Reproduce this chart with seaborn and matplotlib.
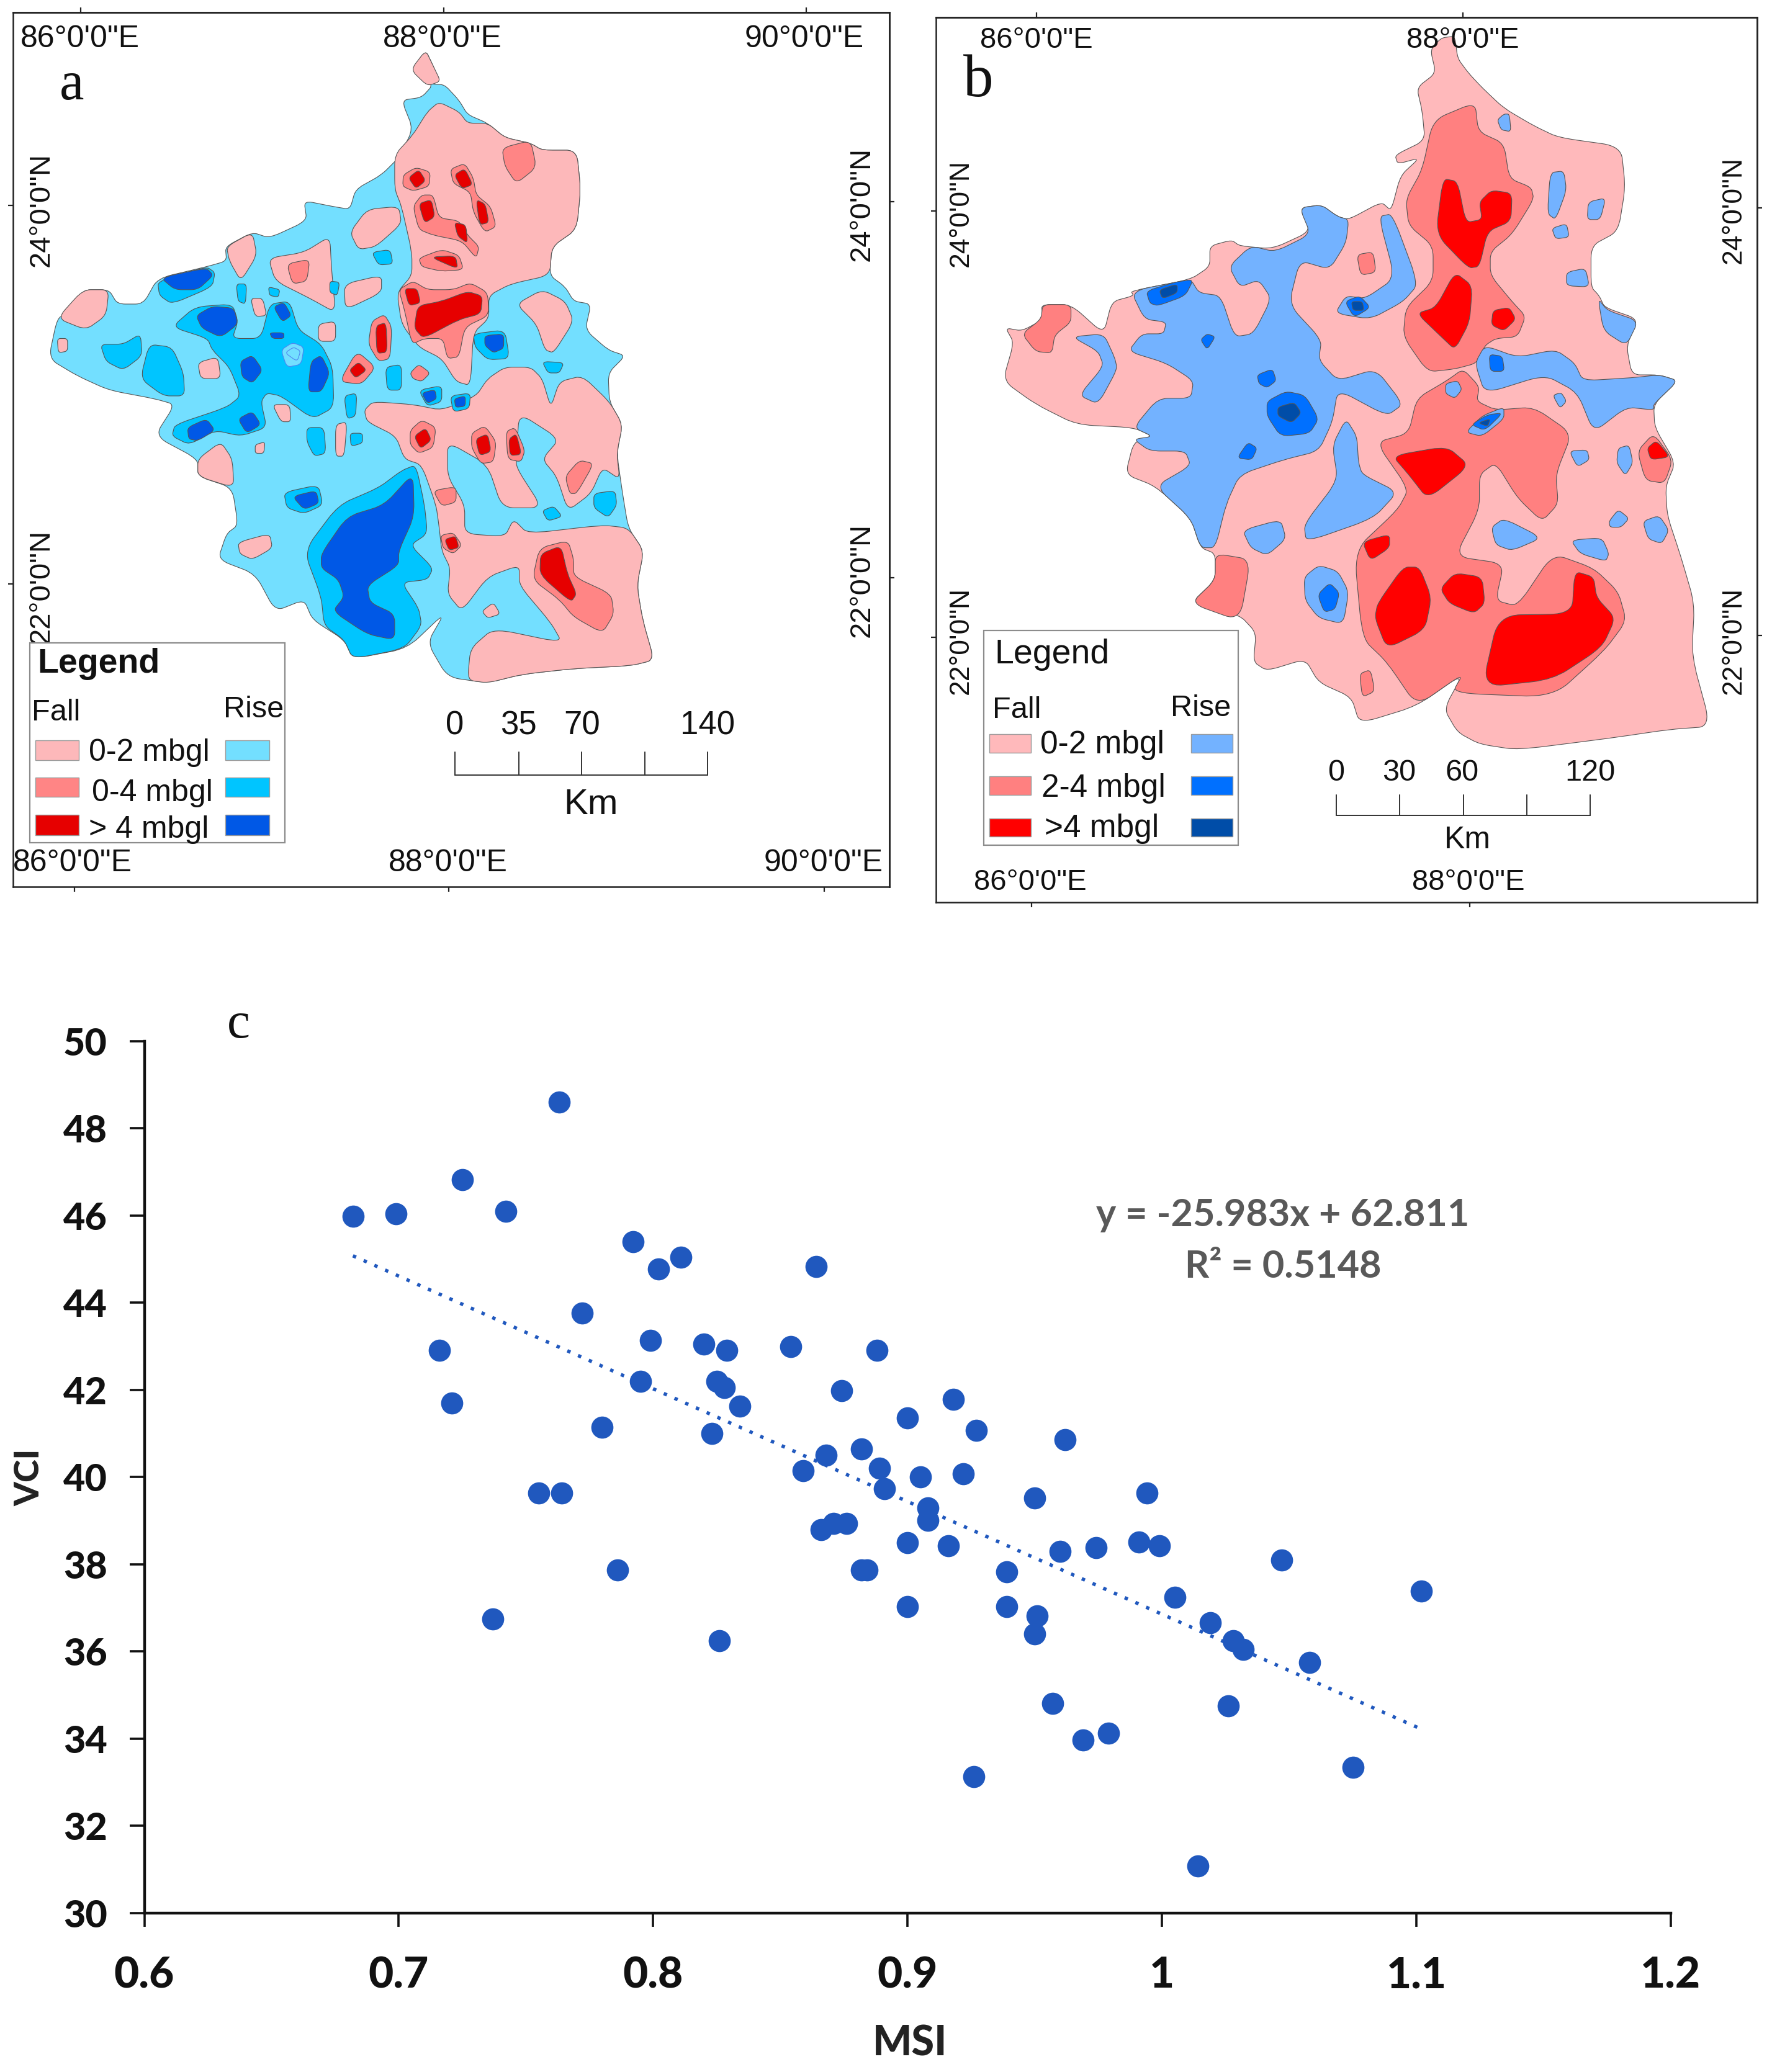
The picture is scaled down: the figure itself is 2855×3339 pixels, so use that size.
import numpy as np
import pandas as pd
import matplotlib
matplotlib.use("Agg")
import matplotlib.pyplot as plt
from matplotlib.patches import PathPatch, Rectangle
from matplotlib.path import Path
import seaborn as sns

# ------------------------------------------------------------
# panel c data
# ------------------------------------------------------------
msi = [0.682, 0.699, 0.725, 0.742, 0.763, 0.792, 0.802, 0.811, 0.864, 0.772, 0.799, 0.820,
       0.829, 0.854, 0.888, 0.716, 0.795, 0.825, 0.828, 0.834, 0.874, 0.721, 0.780, 0.823,
       0.900, 0.868, 0.882, 0.889, 0.859, 0.905, 0.891, 0.755, 0.764, 0.866, 0.871, 0.876,
       0.900, 0.882, 0.884, 0.786, 0.900, 0.737, 0.826, 0.918, 0.927, 0.962, 0.922, 0.950,
       0.994, 0.908, 0.908, 0.916, 0.991, 0.999, 0.960, 0.974, 0.939, 1.047, 1.005, 1.102,
       0.939, 0.951, 0.950, 1.019, 1.028, 1.032, 1.058, 0.957, 1.026, 0.969, 0.979, 1.075,
       0.926, 1.014]
vci = [45.98, 46.04, 46.82, 46.10, 48.60, 45.40, 44.77, 45.04, 44.83, 43.76, 43.13, 43.05,
       42.91, 42.99, 42.91, 42.91, 42.20, 42.20, 42.05, 41.63, 41.99, 41.70, 41.15, 41.00,
       41.36, 40.50, 40.65, 40.21, 40.15, 40.00, 39.73, 39.64, 39.64, 38.80, 38.93, 38.93,
       38.50, 37.87, 37.87, 37.87, 37.03, 36.74, 36.24, 41.79, 41.07, 40.86, 40.08, 39.52,
       39.64, 39.29, 39.01, 38.43, 38.51, 38.43, 38.30, 38.38, 37.82, 38.09, 37.24, 37.38,
       37.03, 36.82, 36.40, 36.66, 36.24, 36.04, 35.75, 34.81, 34.75, 33.97, 34.12, 33.34,
       33.12, 31.07]
x_ticks = [0.6, 0.7, 0.8, 0.9, 1.0, 1.1, 1.2]
x_tick_labels = ["0.6", "0.7", "0.8", "0.9", "1", "1.1", "1.2"]
y_ticks = [30, 32, 34, 36, 38, 40, 42, 44, 46, 48, 50]

# ------------------------------------------------------------
# panel a map, outlines (map grid units)
# ------------------------------------------------------------
a_outline = [(742,88),(755,115),(765,140),(752,147),(775,148),(800,175),(815,200),(850,215),(880,240),(925,250),
             (945,262),(1005,262),(1012,330),(1005,400),(962,430),(958,480),(985,500),(1000,525),(1030,530),(1020,575),
             (1060,610),(1090,620),(1060,650),(1062,700),(1085,740),(1075,790),(1085,860),(1095,920),(1122,960),(1110,1020),
             (1120,1080),(1140,1150),(1100,1160),(1000,1165),(910,1175),(850,1190),(780,1180),(745,1120),(775,1068),(710,1130),
             (615,1148),(600,1115),(545,1080),(530,1045),(480,1065),(445,1000),(380,975),(395,930),(415,915),(405,850),
             (345,830),(345,800),(270,760),(305,705),(270,695),(190,680),(135,655),(85,625),(100,555),(120,545),
             (145,505),(190,505),(205,530),(250,530),(275,485),(360,465),(395,455),(393,430),(440,405),(470,415),
             (535,385),(530,350),(580,360),(610,365),(620,330),(665,305),(695,275),(720,225),(700,175),(735,170),
             (755,148),(720,120)]
a_fall_low = [
    [(742,88),(755,115),(768,142),(745,150),(716,122)],
    [(688,270),(720,235),(745,195),(765,178),(800,195),(815,215),(850,215),(880,240),(925,250),(945,262),(1005,262),
     (1012,330),(1005,400),(962,430),(958,480),(890,495),(852,515),(852,555),(825,580),(820,672),(795,665),(770,625),
     (730,605),(700,565),(692,510),(718,480),(718,440),(700,360),(688,330)],
    [(610,405),(640,365),(695,360),(700,390),(655,430),(625,435)],
    [(468,450),(530,440),(575,412),(578,470),(585,545),(540,520),(480,490)],
    [(600,495),(665,480),(665,510),(602,540)],
    [(395,430),(440,405),(448,445),(420,490),(400,455)],
    [(100,555),(145,505),(190,505),(185,550),(150,575)],
    [(100,590),(118,590),(118,612),(102,615)],
    [(345,632),(380,622),(385,660),(350,660)],
    [(437,520),(458,520),(465,550),(445,552)],
    [(555,565),(585,560),(585,595),(555,595)],
    [(475,705),(505,705),(507,735),(490,735)],
    [(445,775),(462,770),(460,790),(445,790)],
    [(345,800),(385,770),(405,800),(408,850),(345,830)],
    [(415,945),(470,930),(475,955),(440,975),(418,965)],
    [(585,740),(605,735),(600,795),(585,795)],
    [(635,715),(650,700),(720,705),(770,715),(830,690),(850,660),(880,640),(925,640),(945,660),(960,710),(975,665),
     (1015,655),(1062,700),(1085,740),(1075,790),(1080,835),(1050,815),(1030,860),(990,890),(970,830),(945,800),
     (975,765),(905,720),(900,790),(900,815),(945,885),(875,885),(850,810),(780,770),(780,830),(810,880),(810,930),
     (880,935),(895,905),(920,930),(1050,915),(1095,920),(1122,960),(1110,1020),(1120,1080),(1140,1150),(1100,1160),
     (1000,1165),(910,1175),(850,1190),(815,1185),(820,1130),(860,1095),(980,1120),(960,1085),(905,1020),(905,985),
     (850,1005),(805,1065),(780,1035),(785,990),(770,960),(765,915),(760,880),(735,810),(705,800),(690,760),(640,735)],
    [(840,1065),(860,1050),(872,1070),(850,1077)],
    [(900,530),(945,505),(985,525),(1000,560),(965,615),(950,610),(935,565)],
]
a_fall_mid = [
    [(875,258),(925,245),(935,292),(900,320),(880,290)],
    [(500,460),(540,452),(535,490),(510,495)],
    [(703,305),(725,292),(750,300),(748,325),(720,333),(702,325)],
    [(785,295),(810,285),(825,310),(830,340),(855,360),(865,395),(845,405),(825,370),(820,335),(790,320)],
    [(720,360),(735,340),(755,340),(765,380),(800,385),(815,410),(835,430),(830,450),(805,420),(755,410),(730,400)],
    [(730,450),(770,435),(800,445),(808,470),(770,473),(735,465)],
    [(695,505),(720,490),(745,505),(790,505),(820,493),(850,510),(852,550),(810,570),(800,622),(780,625),(772,590),
     (740,590),(718,600),(705,540)],
    [(648,560),(670,548),(683,570),(680,625),(660,630),(642,600)],
    [(592,665),(622,612),(655,640),(630,670)],
    [(715,650),(730,635),(750,650),(735,665),(720,660)],
    [(715,750),(735,732),(760,745),(755,780),(730,790),(715,775)],
    [(822,755),(845,742),(865,770),(860,805),(838,808),(822,780)],
    [(882,752),(898,745),(915,785),(908,805),(885,800)],
    [(985,830),(1010,802),(1035,808),(1005,860),(993,860)],
    [(755,855),(795,848),(795,875),(770,882)],
    [(768,933),(790,928),(805,950),(790,965),(772,955)],
    [(940,955),(990,942),(1000,975),(1000,1005),(1065,1035),(1070,1070),(1050,1103),(1000,1075),(975,1045),(928,1010)],
]
a_fall_high = [
    [(712,310),(730,296),(742,315),(725,329)],
    [(792,305),(810,294),(824,322),(805,329)],
    [(830,348),(846,356),(852,388),(836,392)],
    [(730,355),(752,348),(758,378),(740,389)],
    [(792,388),(812,392),(815,424),(798,412)],
    [(750,448),(794,446),(798,469)],
    [(705,503),(727,503),(733,528),(713,533)],
    [(728,533),(770,525),(815,508),(841,516),(838,547),(800,557),(738,590),(722,572)],
    [(655,568),(673,562),(675,614),(657,616)],
    [(609,645),(625,631),(639,645),(620,659)],
    [(722,760),(742,746),(752,767),(733,782)],
    [(829,765),(850,756),(856,787),(836,794)],
    [(887,765),(900,756),(909,792),(889,794)],
    [(775,940),(794,934),(800,954),(783,959)],
    [(942,965),(978,951),(989,1000),(1005,1035),(995,1049),(941,1002)],
]
a_rise_mid = [
    [(275,490),(360,465),(375,475),(370,500),(300,530),(278,515)],
    [(300,570),(340,535),(405,530),(415,560),(405,590),(455,590),(470,530),(505,525),(520,575),(560,600),(580,640),
     (582,710),(545,730),(490,690),(465,685),(455,700),(465,745),(420,760),(375,750),(330,775),(300,760),(305,740),
     (395,710),(420,690),(400,640),(370,610),(362,590)],
    [(175,600),(215,600),(245,582),(248,620),(215,645),(185,630)],
    [(260,600),(300,605),(320,650),(322,690),(285,690),(245,660)],
    [(412,495),(430,495),(428,530),(415,525)],
    [(468,500),(488,505),(485,518),(470,515)],
    [(575,490),(592,492),(588,515),(575,510)],
    [(648,440),(680,435),(685,460),(660,462)],
    [(672,640),(700,635),(700,680),(675,680)],
    [(600,690),(622,685),(620,725),(605,730)],
    [(730,680),(770,672),(770,700),(745,708)],
    [(785,690),(820,685),(818,712),(790,718)],
    [(535,745),(565,745),(568,790),(548,795),(535,770)],
    [(610,755),(632,755),(632,772),(612,778)],
    [(495,858),(555,845),(563,880),(530,895),(500,885)],
    [(825,582),(880,575),(888,625),(850,627),(828,605)],
    [(945,630),(983,632),(975,650),(955,650)],
    [(1035,860),(1072,855),(1075,880),(1060,902),(1035,885)],
    [(945,890),(965,882),(980,900),(955,908)],
    [(530,960),(590,880),(660,850),(700,820),(725,810),(740,880),(745,930),(715,950),(755,990),(745,1010),(700,1015),
     (730,1060),(735,1090),(705,1130),(615,1148),(600,1115),(565,1090),(560,1040)],
]
a_rise_high = [
    [(280,484),(360,467),(372,480),(345,505),(305,505)],
    [(342,550),(370,534),(408,537),(415,565),(385,588),(352,572)],
    [(419,630),(440,619),(458,645),(440,668),(422,657)],
    [(542,630),(560,619),(575,650),(560,683),(537,683)],
    [(477,535),(495,527),(508,550),(492,561)],
    [(470,580),(495,580),(495,590),(475,590)],
    [(327,745),(360,730),(375,750),(345,768),(329,765)],
    [(415,730),(440,717),(455,740),(430,755)],
    [(735,685),(758,679),(761,695),(745,703)],
    [(792,695),(811,690),(811,708),(794,710)],
    [(510,865),(551,855),(556,877),(530,888)],
    [(845,585),(878,582),(878,607),(860,615),(845,602)],
    [(560,965),(605,900),(670,880),(720,825),(722,900),(695,960),(695,985),(640,1020),(645,1050),(688,1070),(688,1115),
     (640,1105),(580,1065),(600,1040),(590,1010),(560,990)],
]
a_rise_low_top = [
    [(490,610),(510,597),(530,605),(525,635),(500,640)],
    [(497,615),(512,605),(524,612),(518,630)],
]

# ------------------------------------------------------------
# panel b map
# ------------------------------------------------------------
b_outline = [(960,65),(985,62),(990,100),(1010,125),(1035,150),(1075,185),(1130,215),(1175,235),(1290,250),(1298,320),
             (1285,395),(1235,420),(1235,490),(1250,505),(1260,525),(1322,545),(1300,590),(1310,640),(1360,640),(1395,650),
             (1350,690),(1352,730),(1390,790),(1372,830),(1375,880),(1400,950),(1425,1030),(1420,1120),(1455,1240),(1380,1245),
             (1270,1260),(1100,1280),(1030,1270),(990,1250),(965,1210),(1000,1150),(915,1205),(810,1235),(795,1190),(735,1165),
             (710,1125),(640,1145),(615,1130),(620,1080),(590,1050),(500,1030),(545,990),(545,945),(518,935),(500,885),
             (435,830),(380,810),(395,755),(430,745),(395,730),(290,725),(215,690),(155,650),(175,585),(160,560),
             (190,565),(230,545),(225,520),(280,520),(340,570),(355,515),(395,505),(390,497),(500,477),(535,455),
             (535,420),(575,410),(590,420),(650,425),(720,395),(700,355),(740,350),(770,370),(790,375),(850,345),
             (868,360),(885,300),(920,270),(880,280),(875,265),(930,240),(925,190),(915,150),(950,125),(940,85)]
b_fall_mid = [
    [(190,570),(225,545),(228,520),(280,520),(280,550),(250,572),(245,603),(215,600)],
    [(805,435),(835,430),(840,465),(812,470)],
    [(895,340),(925,290),(945,205),(1022,175),(1028,225),(1075,245),(1085,305),(1125,320),(1130,340),(1090,400),
     (1050,430),(1050,470),(1090,515),(1115,540),(1100,575),(1060,578),(1040,590),(1025,620),(985,630),(935,635),
     (890,575),(895,525),(945,480),(945,420),(900,385)],
    [(1000,630),(1030,660),(1025,685),(1060,700),(1130,695),(1200,740),(1170,810),(1175,860),(1145,890),(1100,850),
     (1060,790),(1030,810),(1030,870),(985,950),(1075,962),(1060,1025),(1100,1035),(1165,945),(1240,970),(1285,1010),
     (1300,1060),(1260,1110),(1165,1190),(980,1183),(1000,1150),(915,1205),(860,1130),(815,1090),(800,940),(880,870),
     (900,835),(840,755),(900,740),(915,680),(970,650)],
    [(810,1150),(830,1143),(838,1180),(815,1190)],
    [(545,945),(610,955),(590,1060),(500,1030),(545,990)],
    [(1320,770),(1350,740),(1385,785),(1370,825),(1335,820)],
]
b_fall_high = [
    [(963,305),(990,310),(1005,380),(1035,375),(1030,345),(1052,325),(1090,330),(1088,378),(1045,395),(1030,455),
     (1010,458),(950,400)],
    [(915,535),(950,525),(985,465),(1017,488),(1012,550),(985,597),(960,575)],
    [(1055,530),(1085,525),(1097,545),(1075,565),(1052,555)],
    [(870,778),(970,762),(1012,795),(935,852),(900,810)],
    [(815,925),(865,912),(865,935),(830,957)],
    [(843,1030),(890,968),(920,968),(942,1020),(930,1075),(860,1107),(838,1055)],
    [(958,1005),(985,978),(1035,985),(1040,1030),(1020,1047),(975,1030)],
    [(1065,1050),(1200,1048),(1205,975),(1240,985),(1245,1020),(1280,1055),(1255,1105),(1165,1160),(1035,1173)],
    [(1338,765),(1355,752),(1380,780),(1345,785)],
]
b_rise_low = [
    [(390,497),(500,477),(515,500),(555,505),(580,575),(615,570),(648,510),(625,478),(590,490),(570,455),(610,420),
     (655,430),(720,400),(700,355),(740,350),(770,370),(790,375),(785,415),(755,460),(700,445),(680,520),(740,580),
     (735,615),(770,650),(840,630),(890,690),(860,710),(770,665),(760,720),(735,770),(670,785),(590,810),(565,860),
     (545,935),(518,935),(500,885),(435,830),(500,795),(490,770),(425,770),(395,750),(430,745),(395,730),(440,680),
     (500,680),(505,650),(455,620),(385,600),(410,570),(450,570),(455,550),(415,545)],
    [(282,575),(340,570),(360,610),(365,630),(330,690),(295,675),(340,625),(330,600)],
    [(845,370),(870,365),(918,485),(890,515),(830,545),(765,535),(785,505),(820,510),(875,475)],
    [(1075,195),(1085,195),(1088,225),(1070,222),(1063,205)],
    [(1160,295),(1185,292),(1190,325),(1170,375),(1155,365)],
    [(1230,345),(1262,338),(1252,375),(1228,375)],
    [(1163,390),(1190,382),(1195,405),(1170,408)],
    [(1190,465),(1225,458),(1232,490),(1190,488)],
    [(1248,510),(1265,530),(1322,548),(1300,590),(1258,565)],
    [(1040,590),(1100,610),(1170,597),(1205,620),(1220,650),(1310,645),(1360,640),(1395,650),(1350,690),(1350,700),
     (1300,695),(1240,738),(1210,670),(1150,640),(1040,672),(1022,620)],
    [(968,655),(990,650),(998,665),(985,680),(968,672)],
    [(1165,675),(1180,670),(1190,685),(1178,697)],
    [(1005,738),(1035,710),(1075,695),(1075,715),(1035,745)],
    [(1195,770),(1228,768),(1232,785),(1210,797)],
    [(1285,765),(1305,760),(1312,790),(1298,812),(1282,790)],
    [(1268,890),(1285,870),(1305,885),(1290,900),(1270,900)],
    [(1330,890),(1360,880),(1378,905),(1365,928),(1340,920)],
    [(1052,900),(1075,885),(1145,918),(1090,940),(1060,930)],
    [(1198,922),(1255,918),(1268,945),(1262,958),(1215,945)],
    [(595,905),(665,887),(675,920),(640,948),(610,935)],
    [(708,985),(735,965),(770,975),(790,1010),(780,1065),(735,1055),(710,1025)],
    [(708,895),(770,820),(760,760),(785,715),(805,745),(808,790),(815,810),(880,840),(835,885),(712,925)],
]
b_rise_mid = [
    [(783,515),(810,505),(830,525),(800,542)],
    [(1048,605),(1072,608),(1076,634),(1050,634)],
    [(1015,725),(1045,708),(1073,705),(1040,735)],
    [(733,1015),(755,995),(773,1012),(765,1040),(745,1045)],
    [(518,580),(530,570),(545,575),(530,597)],
    [(622,640),(650,630),(657,650),(640,662),(625,655)],
    [(640,685),(675,668),(710,675),(735,715),(718,740),(665,745),(640,710)],
    [(585,782),(605,755),(622,765),(612,785)],
    [(418,497),(470,482),(505,477),(490,505),(440,522),(425,518)],
]
b_rise_high = [
    [(795,515),(815,515),(818,530),(798,530)],
    [(1028,722),(1050,715),(1045,728)],
    [(660,695),(690,687),(703,705),(685,722),(660,710)],
    [(442,495),(475,485),(475,500),(448,510)],
]

# tick places on the four frame sides, the grid is a little skewed
a_top_ticks = [86.0, 88.0, 90.0]
a_bottom_ticks = [85.965, 88.03, 90.10]
a_left_ticks = [24.0, 22.0]
a_right_ticks = [24.018, 22.03]
b_top_ticks = [86.0, 88.0]
b_bottom_ticks = [85.977, 88.03]
b_left_ticks = [24.0, 22.0]
b_right_ticks = [24.014, 22.008]

a_colours = {"fall": ["#FDB8BA", "#FF8585", "#E60000"], "rise": ["#73DFFF", "#00C5FF", "#0058E6"]}
b_colours = {"fall": ["#FFB9BB", "#FF8080", "#FF0000"], "rise": ["#73B2FF", "#0070FF", "#004DA8"]}

EDGE = "#555555"
MAP_FONT = "Liberation Sans"
TEXT_SHIFT = 4
W, H = 2855, 3339

sns.set_theme(style="ticks")
plt.rcParams["font.family"] = [MAP_FONT, "DejaVu Sans"]

fig = plt.figure(figsize=(W / 200, H / 200), dpi=200, facecolor="white")


def axes_px(x0, y0, x1, y1):
    return fig.add_axes([x0 / W, 1 - y1 / H, (x1 - x0) / W, (y1 - y0) / H])


class MapGrid:
    """Turns the map grid units of the outlines into lon/lat."""
    def __init__(self, x86, sx, y24, sy):
        self.x86, self.sx, self.y24, self.sy = x86, sx, y24, sy

    def lon(self, x):
        return 86 + (np.asarray(x, float) - self.x86) / self.sx

    def lat(self, y):
        return 24 - (np.asarray(y, float) - self.y24) / self.sy


def fill_all(ax, grid, polys, colour, edge=EDGE, lw=0.4):
    # contours get slightly rounded corners, straight runs stay straight
    for poly in polys:
        pts = np.array(poly, float)
        pts = np.column_stack([grid.lon(pts[:, 0]), grid.lat(pts[:, 1])])
        nxt = np.roll(pts, -1, axis=0)
        near = pts + 0.3 * (nxt - pts)
        far = pts + 0.7 * (nxt - pts)
        verts = [far[-1]]
        codes = [Path.MOVETO]
        for p, a, b in zip(pts, near, far):
            verts += [p, a, b]
            codes += [Path.CURVE3, Path.CURVE3, Path.LINETO]
        ax.add_patch(PathPatch(Path(verts, codes), facecolor=colour, edgecolor=edge, linewidth=lw))


def setup_frame(ax, grid, box, top, bottom, left, right):
    ax.set_xlim(grid.lon(box[0]), grid.lon(box[1]))
    ax.set_ylim(grid.lat(box[3]), grid.lat(box[2]))
    ax.set_xticks(bottom)
    ax.set_yticks(left)
    ax.set_xticklabels([])
    ax.set_yticklabels([])
    top_ax = ax.secondary_xaxis("top")
    top_ax.set_xticks(top)
    top_ax.set_xticklabels([])
    right_ax = ax.secondary_yaxis("right")
    right_ax.set_yticks(right)
    right_ax.set_yticklabels([])
    for a in (ax, top_ax, right_ax):
        a.tick_params(length=3, width=0.8, color="#222222")
        for s in a.spines.values():
            s.set_linewidth(0.9)
            s.set_color("#222222")


def put(ax, grid, x, y, s, **kw):
    kw.setdefault("ha", "center")
    kw.setdefault("va", "center")
    kw.setdefault("color", "#111111")
    kw.setdefault("zorder", 7)
    ax.text(grid.lon(x), grid.lat(y + TEXT_SHIFT), s, **kw)


def swatch(ax, grid, x0, y0, x1, y1, colour, edge="#9a9a9a", lw=0.5):
    ax.add_patch(Rectangle((grid.lon(x0), grid.lat(y1)), grid.lon(x1) - grid.lon(x0), grid.lat(y0) - grid.lat(y1),
                           facecolor=colour, edgecolor=edge, linewidth=lw, zorder=6))


def scale_bar(ax, grid, xs, y_line, y_top, colour="#333333"):
    ax.plot(grid.lon([xs[0], xs[-1]]), grid.lat([y_line, y_line]), color=colour, lw=0.7, zorder=7)
    for x in xs:
        ax.plot(grid.lon([x, x]), grid.lat([y_line, y_top]), color=colour, lw=0.7, zorder=7)


# ------------------------------------------------------------
# panel a
# ------------------------------------------------------------
ax_a = axes_px(21, 20, 1433, 1429)
grid_a = MapGrid(141, 316, 358, 329.5)
setup_frame(ax_a, grid_a, (23, 1550, 22, 1545), a_top_ticks, a_bottom_ticks, a_left_ticks, a_right_ticks)

fill_all(ax_a, grid_a, [a_outline], a_colours["rise"][0])
fill_all(ax_a, grid_a, a_fall_low, a_colours["fall"][0])
fill_all(ax_a, grid_a, a_fall_mid, a_colours["fall"][1])
fill_all(ax_a, grid_a, a_fall_high, a_colours["fall"][2])
fill_all(ax_a, grid_a, a_rise_mid, a_colours["rise"][1])
fill_all(ax_a, grid_a, a_rise_high, a_colours["rise"][2])
fill_all(ax_a, grid_a, a_rise_low_top, a_colours["rise"][0], edge="#4f86f0")

for x, s in zip([140, 771, 1402], ['86°0\'0"E', '88°0\'0"E', '90°0\'0"E']):
    put(ax_a, grid_a, x, 65, s, fontsize=18, zorder=3)
for x, s in zip([127, 781, 1435], ['86°0\'0"E', '88°0\'0"E', '90°0\'0"E']):
    put(ax_a, grid_a, x, 1500, s, fontsize=18, zorder=3)
for y, s in zip([362, 1018], ['24°0\'0"N', '22°0\'0"N']):
    put(ax_a, grid_a, 72, y, s, fontsize=17, rotation=90, zorder=3)
for y, s in zip([352, 1007], ['24°0\'0"N', '22°0\'0"N']):
    put(ax_a, grid_a, 1502, y, s, fontsize=17, rotation=90, zorder=3)
put(ax_a, grid_a, 125, 146, "a", fontsize=32, family="Liberation Serif")

swatch(ax_a, grid_a, 52, 1120, 497, 1468, "white", edge="#8c8c8c", lw=0.8)
put(ax_a, grid_a, 172, 1153, "Legend", fontsize=20, fontweight="bold")
put(ax_a, grid_a, 98, 1238, "Fall", fontsize=17.5)
put(ax_a, grid_a, 442, 1232, "Rise", fontsize=17.5)
for y0, y1, fc, rc in zip([1290, 1355, 1420], [1325, 1388, 1455], a_colours["fall"], a_colours["rise"]):
    swatch(ax_a, grid_a, 62, y0, 138, y1, fc)
    swatch(ax_a, grid_a, 393, y0, 470, y1, rc)
for x, y, s in zip([155, 160, 155], [1308, 1378, 1442], ["0-2 mbgl", "0-4 mbgl", "> 4 mbgl"]):
    put(ax_a, grid_a, x, y, s, fontsize=18, ha="left")

scale_bar(ax_a, grid_a, [793, 904, 1014, 1124, 1233], 1350, 1310)
for x, s in zip([793, 904, 1014, 1233], ["0", "35", "70", "140"]):
    put(ax_a, grid_a, x, 1260, s, fontsize=19)
put(ax_a, grid_a, 1030, 1398, "Km", fontsize=21)

# ------------------------------------------------------------
# panel b
# ------------------------------------------------------------
ax_b = axes_px(1508, 28, 2831, 1454)
grid_b = MapGrid(217, 391.5, 360, 364)
setup_frame(ax_b, grid_b, (32, 1540, 30, 1540), b_top_ticks, b_bottom_ticks, b_left_ticks, b_right_ticks)

fill_all(ax_b, grid_b, [b_outline], b_colours["fall"][0])
fill_all(ax_b, grid_b, b_fall_mid, b_colours["fall"][1])
fill_all(ax_b, grid_b, b_fall_high, b_colours["fall"][2])
fill_all(ax_b, grid_b, b_rise_low, b_colours["rise"][0])
fill_all(ax_b, grid_b, b_rise_mid, b_colours["rise"][1])
fill_all(ax_b, grid_b, b_rise_high, b_colours["rise"][2])

for x, s in zip([217, 1000], ['86°0\'0"E', '88°0\'0"E']):
    put(ax_b, grid_b, x, 65, s, fontsize=17, zorder=3)
for x, s in zip([205, 1010], ['86°0\'0"E', '88°0\'0"E']):
    put(ax_b, grid_b, x, 1502, s, fontsize=17, zorder=3)
for y, s in zip([360, 1090], ['24°0\'0"N', '22°0\'0"N']):
    put(ax_b, grid_b, 78, y, s, fontsize=16, rotation=90, zorder=3)
for y, s in zip([355, 1090], ['24°0\'0"N', '22°0\'0"N']):
    put(ax_b, grid_b, 1497, y, s, fontsize=16, rotation=90, zorder=3)
put(ax_b, grid_b, 110, 136, "b", fontsize=35, family="Liberation Serif")

swatch(ax_b, grid_b, 120, 1076, 587, 1443, "white", edge="#8c8c8c", lw=0.8)
put(ax_b, grid_b, 245, 1113, "Legend", fontsize=20)
put(ax_b, grid_b, 180, 1208, "Fall", fontsize=17.5)
put(ax_b, grid_b, 518, 1205, "Rise", fontsize=17.5)
for y0, y1, fc, rc in zip([1253, 1325, 1397], [1285, 1357, 1428], b_colours["fall"], b_colours["rise"]):
    swatch(ax_b, grid_b, 130, y0, 206, y1, fc)
    swatch(ax_b, grid_b, 500, y0, 577, y1, rc)
for x, y, s in zip([223, 226, 232], [1268, 1342, 1410], ["0-2 mbgl", "2-4 mbgl", ">4 mbgl"]):
    put(ax_b, grid_b, x, y, s, fontsize=18.5, ha="left")

scale_bar(ax_b, grid_b, [767, 884, 1001, 1117, 1233], 1392, 1357)
for x, s in zip([767, 883, 998, 1233], ["0", "30", "60", "120"]):
    put(ax_b, grid_b, x, 1315, s, fontsize=17.5)
put(ax_b, grid_b, 1008, 1430, "Km", fontsize=18)

# ------------------------------------------------------------
# panel c
# ------------------------------------------------------------
df = pd.DataFrame({"MSI": msi, "VCI": vci})
POINT = "#2058BE"

ax_c = axes_px(232.5, 1678, 2692, 3082.6)
sns.regplot(data=df, x="MSI", y="VCI", ax=ax_c, scatter=False, ci=None, truncate=True,
            line_kws={"color": POINT, "lw": 2.0, "ls": (0, (1, 2.4))})
sns.scatterplot(data=df, x="MSI", y="VCI", ax=ax_c, color=POINT, s=165, linewidth=0, zorder=3)
ax_c.set_xlim(0.6, 1.2)
ax_c.set_ylim(30, 50)
ax_c.set_xticks(x_ticks)
ax_c.set_xticklabels(x_tick_labels, fontsize=25, fontweight=900, family="Lato", color="#111111")
ax_c.set_yticks(y_ticks)
ax_c.set_yticklabels([str(v) for v in y_ticks], fontsize=22, fontweight=900, family="Lato", color="#111111")
ax_c.tick_params(axis="x", length=8, width=1.3, pad=17, color="#111111")
ax_c.tick_params(axis="y", length=8.5, width=1.3, pad=13, color="#111111")
ax_c.set_xlabel("MSI", fontsize=24, fontweight=900, family="Lato", color="#222222", va="center")
ax_c.set_ylabel("VCI", fontsize=20, fontweight=900, family="Lato", color="#222222", va="center")
ax_c.xaxis.set_label_coords(0.5016, -0.150)
ax_c.yaxis.set_label_coords(-0.0754, 0.4993)
sns.despine(ax=ax_c)
for side in ("left", "bottom"):
    ax_c.spines[side].set_linewidth(1.6)
    ax_c.spines[side].set_color("#111111")

fig.text(2067 / W, 1 - 1958 / H, "y = -25.983x + 62.811", fontsize=22, fontweight="bold", family="Lato",
         color="#595959", ha="center", va="center")
fig.text(2067 / W, 1 - 2041 / H, "R² = 0.5148", fontsize=22, fontweight="bold", family="Lato",
         color="#595959", ha="center", va="center")
fig.text(384 / W, 1 - 1652 / H, "c", fontsize=30, family="Liberation Serif", color="#111111", ha="center", va="center")

fig.savefig("out.png", dpi=200, facecolor="white")
